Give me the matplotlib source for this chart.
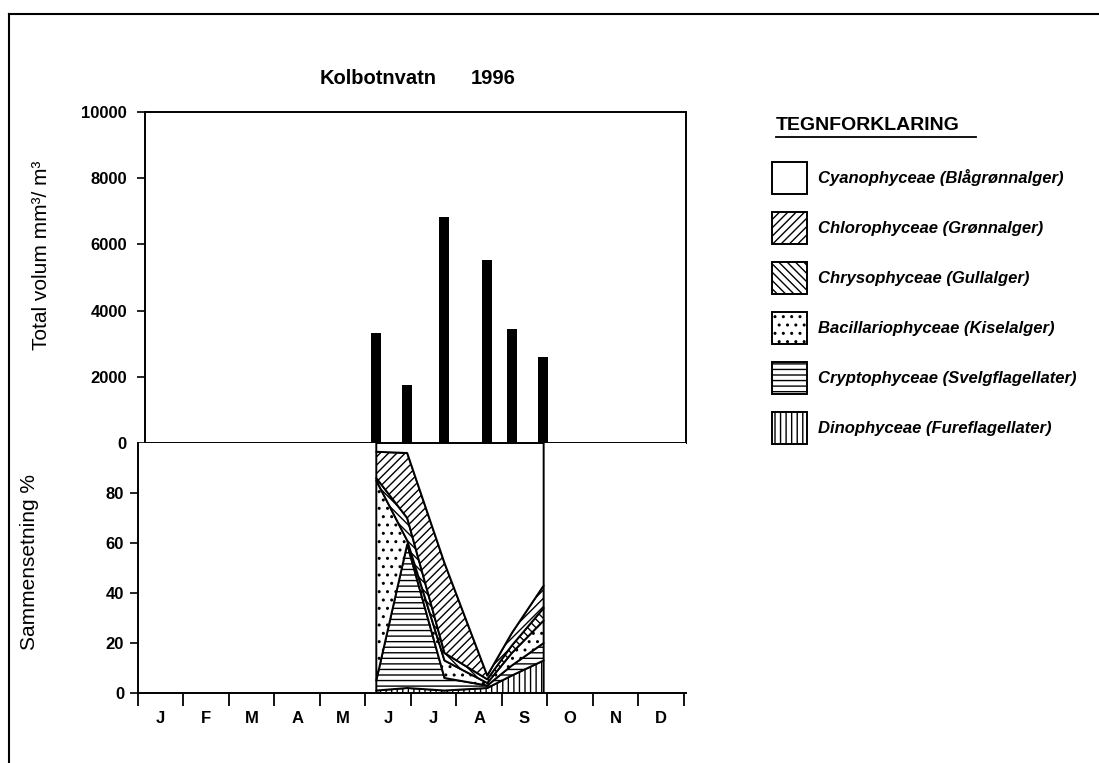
import numpy as np
import matplotlib
matplotlib.use("Agg")
import matplotlib.pyplot as plt
from matplotlib.patches import Rectangle
from matplotlib.lines import Line2D

plt.rcParams['font.family'] = ['Liberation Sans', 'DejaVu Sans']
plt.rcParams['hatch.linewidth'] = 1.0

# sampling dates as month number (0 = start of January)
dates = [5.24, 5.92, 6.74, 7.68, 8.22, 8.92]
total_volume = [3320, 1740, 6830, 5520, 3450, 2590]

# composition in % (bottom to top of the stack)
dino = [1, 2, 1, 2, 7, 13]
crypto = [4, 57.5, 5, 1, 4, 7]
bacillario = [80, 1.5, 7, 1, 5, 9]
chryso = [1, 9, 3, 1.5, 3, 5]
chloro = [10.5, 26, 36, 1.5, 5, 9]
cyano = [3.5, 4, 48, 93, 76, 57]

months = ['J', 'F', 'M', 'A', 'M', 'J', 'J', 'A', 'S', 'O', 'N', 'D']

legend_names = ['Cyanophyceae (Blågrønnalger)', 'Chlorophyceae (Grønnalger)',
                'Chrysophyceae (Gullalger)', 'Bacillariophyceae (Kiselalger)',
                'Cryptophyceae (Svelgflagellater)', 'Dinophyceae (Fureflagellater)']
legend_hatch = ['', '////', '\\\\\\\\', '..', '---', '|||']

W, H = 1099, 763
fig = plt.figure(figsize=(W / 100, H / 100), dpi=100)

def fx(px):
    return px / W

def fy(py):
    return 1 - py / H

# top panel: total volume
ax1 = fig.add_axes([fx(145), fy(443), fx(686) - fx(145), fy(112) - fy(443)])
ax1.bar(dates, total_volume, width=0.22, color='black')
ax1.set_xlim(0.165, 12.055)
ax1.set_ylim(0, 10000)
ax1.set_yticks(np.arange(0, 10001, 2000))
ax1.set_xticks([])
for s in ax1.spines.values():
    s.set_linewidth(1.4)
ax1.tick_params(axis='y', direction='out', length=6, width=1.2, pad=7,
                labelsize=12)
for t in ax1.get_yticklabels():
    t.set_fontweight('bold')

# bottom panel: composition
ax2 = fig.add_axes([fx(138), fy(693), fx(686) - fx(138), fy(443) - fy(693)])
layers = [dino, crypto, bacillario, chryso, chloro, cyano]
hatches = ['|||', '---', '..', '\\\\\\\\', '////', '']
lower = np.zeros(len(dates))
for vals, h in zip(layers, hatches):
    upper = lower + np.array(vals)
    ax2.fill_between(dates, lower, upper, facecolor='white', edgecolor='black',
                     hatch=h, linewidth=1.4)
    lower = upper
ax2.set_xlim(0, 12.05)
ax2.set_ylim(0, 100)
ax2.spines['top'].set_visible(False)
ax2.spines['right'].set_visible(False)
ax2.spines['left'].set_linewidth(1.4)
ax2.spines['bottom'].set_linewidth(1.4)
ax2.set_yticks([0, 20, 40, 60, 80])
ax2.tick_params(axis='y', direction='out', length=6, width=1.2, pad=4,
                labelsize=12)
ax2.set_xticks(np.arange(0, 13))
ax2.set_xticklabels([])
ax2.tick_params(axis='x', which='major', direction='out', length=9, width=1.3)
ax2.set_xticks(np.arange(12) + 0.5, minor=True)
ax2.set_xticklabels(months, minor=True)
ax2.tick_params(axis='x', which='minor', length=0, pad=13, labelsize=12)
for t in ax2.get_yticklabels() + ax2.get_xticklabels(minor=True):
    t.set_fontweight('bold')

# titles and axis labels
fig.text(fx(378), fy(78), 'Kolbotnvatn', ha='center', va='center',
         fontsize=14.5, fontweight='bold')
fig.text(fx(493), fy(78), '1996', ha='center', va='center',
         fontsize=14.5, fontweight='bold')
fig.text(fx(42), fy(255), 'Total volum mm³/ m³', rotation=90, ha='center',
         va='center', fontsize=15)
fig.text(fx(30), fy(562), 'Sammensetning %', rotation=90, ha='center',
         va='center', fontsize=15)

# legend
fig.text(fx(776), fy(125), 'TEGNFORKLARING', ha='left', va='center',
         fontsize=14, fontweight='bold')
fig.add_artist(Line2D([fx(776), fx(976)], [fy(137), fy(137)], color='black',
                      linewidth=1.3))
for i, (name, h) in enumerate(zip(legend_names, legend_hatch)):
    yc = 178 + 50 * i
    fig.add_artist(Rectangle((fx(772), fy(yc + 16)), fx(807) - fx(772),
                             fy(yc - 16) - fy(yc + 16), facecolor='white',
                             edgecolor='black', hatch=h, linewidth=1.4,
                             transform=fig.transFigure))
    fig.text(fx(818), fy(yc), name, ha='left', va='center', fontsize=12,
             fontweight='bold', fontstyle='italic')

# page frame from the scan
fig.add_artist(Line2D([fx(9), fx(9)], [fy(14), 0], color='black', linewidth=1.5))
fig.add_artist(Line2D([fx(9), 1], [fy(14), fy(14)], color='black', linewidth=1.5))

fig.savefig('out.png', dpi=100)
